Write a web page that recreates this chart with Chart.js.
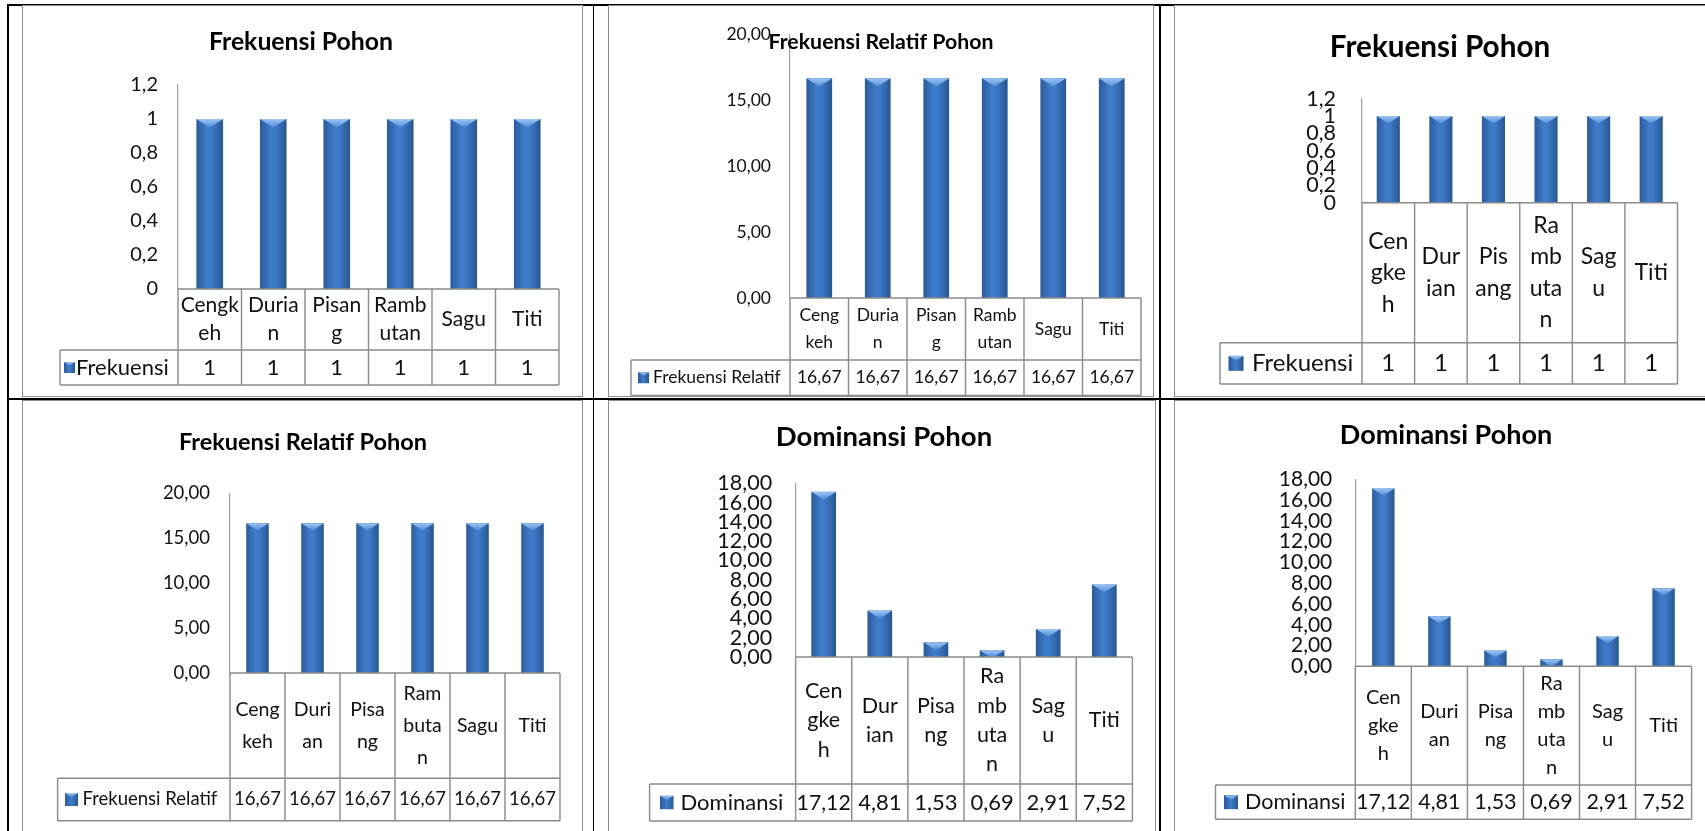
<!DOCTYPE html>
<html>
<head>
<meta charset="utf-8">
<title>Frekuensi dan Dominansi Pohon</title>
<script src="https://cdn.jsdelivr.net/npm/chart.js@4.4.1/dist/chart.umd.min.js"></script>
<style>
html, body { margin:0; padding:0; background:#fff; overflow:hidden; }
body { width:1705px; height:831px; position:relative; }
.line { position:absolute; background:#000; }
.box { position:absolute; border:1.4px solid #8d8d8d; box-sizing:border-box; }
canvas { position:absolute; }
</style>
</head>
<body>

<!-- garis tabel dokumen -->
<div class="line" style="left:7.3px;top:4.3px;width:1700px;height:1.3px"></div>
<div class="line" style="left:7.3px;top:4.3px;width:1.3px;height:830px"></div>
<div class="line" style="left:592.7px;top:4.3px;width:1.7px;height:830px"></div>
<div class="line" style="left:1159.3px;top:4.3px;width:1.7px;height:830px"></div>
<div class="line" style="left:7.3px;top:398px;width:1700px;height:1.7px"></div>

<div class="box" style="left:22px;top:5.4px;width:561.3px;height:391.4px"></div>
<div class="box" style="left:607.7px;top:5.4px;width:546.3px;height:391.4px"></div>
<div class="box" style="left:1173.7px;top:5.4px;width:600px;height:391.4px"></div>
<div class="box" style="left:22px;top:400px;width:561.3px;height:500px"></div>
<div class="box" style="left:607.7px;top:400px;width:548px;height:500px"></div>
<div class="box" style="left:1173.7px;top:400px;width:600px;height:500px"></div>

<canvas id="c1"></canvas>
<canvas id="c2"></canvas>
<canvas id="c3"></canvas>
<canvas id="c4"></canvas>
<canvas id="c5"></canvas>
<canvas id="c6"></canvas>

<script>
// Data
const categories = ['Cengkeh', 'Durian', 'Pisang', 'Rambutan', 'Sagu', 'Titi'];
const frekuensi = [1, 1, 1, 1, 1, 1];
const frekuensiRelatif = [16.67, 16.67, 16.67, 16.67, 16.67, 16.67];
const dominansi = [17.12, 4.81, 1.53, 0.69, 2.91, 7.52];

// Label sumbu Y
const frekTicks = ['0', '0,2', '0,4', '0,6', '0,8', '1', '1,2'];
const frekRelTicks = ['0,00', '5,00', '10,00', '15,00', '20,00'];
const domTicks = ['0,00', '2,00', '4,00', '6,00', '8,00', '10,00', '12,00', '14,00', '16,00', '18,00'];

// Label kategori, dipotong seperti di tiap grafik
const wrap1 = [['Cengk', 'eh'], ['Duria', 'n'], ['Pisan', 'g'], ['Ramb', 'utan'], ['Sagu'], ['Titi']];
const wrap2 = [['Ceng', 'keh'], ['Duria', 'n'], ['Pisan', 'g'], ['Ramb', 'utan'], ['Sagu'], ['Titi']];
const wrap3 = [['Cen', 'gke', 'h'], ['Dur', 'ian'], ['Pis', 'ang'], ['Ra', 'mb', 'uta', 'n'], ['Sag', 'u'], ['Titi']];
const wrap4 = [['Ceng', 'keh'], ['Duri', 'an'], ['Pisa', 'ng'], ['Ram', 'buta', 'n'], ['Sagu'], ['Titi']];
const wrap5 = [['Cen', 'gke', 'h'], ['Dur', 'ian'], ['Pisa', 'ng'], ['Ra', 'mb', 'uta', 'n'], ['Sag', 'u'], ['Titi']];
const wrap6 = [['Cen', 'gke', 'h'], ['Duri', 'an'], ['Pisa', 'ng'], ['Ra', 'mb', 'uta', 'n'], ['Sag', 'u'], ['Titi']];

const FONT = 'Lato, "Liberation Sans", sans-serif';

// posisi tiap panel (koordinat halaman)
const panels = [
    {id: 'c1', box: [22, 5, 583, 397], title: 'Frekuensi Pohon', titleX: 301, titleY: 42, titleSize: 24.8,
     axisX: 178, plotRight: 559, yTop: 85, yZero: 289, catBottom: 350, dataBottom: 385, dataLeft: 60,
     tickSize: 20, tickPad: 20, catSize: 21, catLine: 28, dataSize: 22, keyX: 64, keySize: 11, legendX: 76,
     barPct: 0.42, values: frekuensi, ticks: frekTicks, max: 1.2, step: 0.2, wrap: wrap1, series: 'Frekuensi', dec: 0},
    {id: 'c2', box: [608, 5, 1154, 397], title: 'Frekuensi Relatif Pohon', titleX: 881, titleY: 42, titleSize: 21.3,
     axisX: 790, plotRight: 1141, yTop: 28, yZero: 298, catBottom: 360, dataBottom: 395.5, dataLeft: 631,
     tickSize: 17.5, tickPad: 19, catSize: 17.5, catLine: 26.5, dataSize: 17.5, keyX: 638, keySize: 11, legendX: 653,
     barPct: 0.44, values: frekuensiRelatif, ticks: frekRelTicks, max: 20, step: 5, wrap: wrap2, series: 'Frekuensi Relatif', dec: 2},
    {id: 'c3', box: [1174, 5, 1705, 397], title: 'Frekuensi Pohon', titleX: 1440, titleY: 47, titleSize: 29.7,
     axisX: 1362, plotRight: 1677.5, yTop: 98.7, yZero: 202.7, catBottom: 342.7, dataBottom: 384, dataLeft: 1220,
     tickSize: 21.5, tickPad: 26, catSize: 23, catLine: 31.5, dataSize: 24, keyX: 1228.5, keySize: 15, legendX: 1252,
     barPct: 0.44, values: frekuensi, ticks: frekTicks, max: 1.2, step: 0.2, wrap: wrap3, series: 'Frekuensi', dec: 0},
    {id: 'c4', box: [22, 400, 583, 831], title: 'Frekuensi Relatif Pohon', titleX: 303, titleY: 442, titleSize: 23.5,
     axisX: 230, plotRight: 560, yTop: 493.3, yZero: 673, catBottom: 778.3, dataBottom: 820.7, dataLeft: 57.6,
     tickSize: 18.5, tickPad: 20, catSize: 19.5, catLine: 32.3, dataSize: 18.5, keyX: 65, keySize: 13, legendX: 82.5,
     barPct: 0.41, values: frekuensiRelatif, ticks: frekRelTicks, max: 20, step: 5, wrap: wrap4, series: 'Frekuensi Relatif', dec: 2},
    {id: 'c5', box: [608, 400, 1155, 831], title: 'Dominansi Pohon', titleX: 884, titleY: 437, titleSize: 27.5,
     axisX: 795.6, plotRight: 1132.4, yTop: 483.3, yZero: 657, catBottom: 784, dataBottom: 821, dataLeft: 649.6,
     tickSize: 21.5, tickPad: 23.5, catSize: 21.5, catLine: 29.3, dataSize: 22, keyX: 660, keySize: 13.5, legendX: 680.5,
     barPct: 0.44, values: dominansi, ticks: domTicks, max: 18, step: 2, wrap: wrap5, series: 'Dominansi', dec: 2},
    {id: 'c6', box: [1174, 400, 1705, 831], title: 'Dominansi Pohon', titleX: 1446, titleY: 435, titleSize: 27,
     axisX: 1355.3, plotRight: 1691.6, yTop: 479.3, yZero: 666.3, catBottom: 785, dataBottom: 819.3, dataLeft: 1215.5,
     tickSize: 21, tickPad: 23, catSize: 20, catLine: 28, dataSize: 21.5, keyX: 1224, keySize: 14, legendX: 1245,
     barPct: 0.40, values: dominansi, ticks: domTicks, max: 18, step: 2, wrap: wrap6, series: 'Dominansi', dec: 2}
];

const fmt = (v, d) => v.toFixed(d).replace('.', ',');

// gradasi batang (gelap di sisi, terang di tengah)
const barFill = (p) => (c) => {
    const ch = c.chart, a = ch.chartArea;
    if (!a || c.type !== 'data') return '#3b74bf';
    const cx = ch.scales.x.getPixelForValue(c.dataIndex);
    const hw = a.width / p.values.length * p.barPct / 2;
    const g = ch.ctx.createLinearGradient(cx - hw, 0, cx + hw, 0);
    g.addColorStop(0, '#2b5b9b');
    g.addColorStop(0.4, '#3f7ccb');
    g.addColorStop(0.6, '#3c78c6');
    g.addColorStop(1, '#28568f');
    return g;
};

const bevel = (ctx, x0, y0, w, h) => {
    const d = Math.min(w * 0.32, h);
    ctx.save();
    ctx.beginPath();
    ctx.rect(x0, y0, w, h);
    ctx.clip();
    const g = ctx.createLinearGradient(0, y0, 0, y0 + d);
    g.addColorStop(0, '#9cc6f5');
    g.addColorStop(1, '#4f8ad6');
    ctx.fillStyle = g;
    ctx.beginPath();
    ctx.moveTo(x0, y0);
    ctx.lineTo(x0 + w, y0);
    ctx.lineTo(x0 + w / 2, y0 + w * 0.32);
    ctx.closePath();
    ctx.fill();
    ctx.restore();
};

// sisi atas batang
const bevelPlugin = {
    id: 'bevel',
    afterDatasetsDraw(chart) {
        chart.getDatasetMeta(0).data.forEach(bar => {
            bevel(chart.ctx, bar.x - bar.width / 2, bar.y, bar.width, bar.base - bar.y);
        });
    }
};

// judul + tabel data di bawah sumbu X
const tablePlugin = (p, bx, by) => ({
    id: 'dataTable',
    afterDraw(chart) {
        const ctx = chart.ctx, a = chart.chartArea, xs = chart.scales.x;
        const n = p.values.length, cw = a.width / n;
        const y0 = a.bottom, y1 = p.catBottom - by, y2 = p.dataBottom - by, xl = p.dataLeft - bx;
        ctx.save();

        ctx.fillStyle = '#000';
        ctx.textAlign = 'center';
        ctx.textBaseline = 'middle';
        ctx.font = `bold ${p.titleSize}px ${FONT}`;
        ctx.fillText(p.title, p.titleX - bx, p.titleY - by);

        ctx.strokeStyle = '#8a8a8a';
        ctx.lineWidth = 1.4;
        ctx.beginPath();
        ctx.moveTo(a.left, y0); ctx.lineTo(a.right, y0);
        ctx.moveTo(xl, y1); ctx.lineTo(a.right, y1);
        ctx.moveTo(xl, y2); ctx.lineTo(a.right, y2);
        ctx.moveTo(xl, y1); ctx.lineTo(xl, y2);
        for (let i = 0; i <= n; i++) {
            const x = xs.getPixelForValue(Math.min(i, n - 1)) + (i === n ? cw / 2 : -cw / 2);
            ctx.moveTo(x, y0); ctx.lineTo(x, y2);
        }
        ctx.stroke();

        ctx.fillStyle = '#111';
        ctx.font = `${p.catSize}px ${FONT}`;
        p.wrap.forEach((lines, i) => {
            const cx = xs.getPixelForValue(i);
            const top = (y0 + y1) / 2 - (lines.length - 1) * p.catLine / 2;
            lines.forEach((t, j) => ctx.fillText(t, cx, top + j * p.catLine, cw - 3));
        });

        ctx.font = `${p.dataSize}px ${FONT}`;
        const ym = (y1 + y2) / 2;
        p.values.forEach((v, i) => ctx.fillText(fmt(v, p.dec), xs.getPixelForValue(i), ym, cw - 2));

        const kx = p.keyX - bx, ks = p.keySize;
        const kg = ctx.createLinearGradient(kx, 0, kx + ks, 0);
        kg.addColorStop(0, '#2b5b9b');
        kg.addColorStop(0.5, '#3f7ccb');
        kg.addColorStop(1, '#28568f');
        ctx.fillStyle = kg;
        ctx.fillRect(kx, ym - ks / 2, ks, ks);
        bevel(ctx, kx, ym - ks / 2, ks, ks);

        ctx.fillStyle = '#111';
        ctx.textAlign = 'left';
        ctx.fillText(p.series, p.legendX - bx, ym, a.left - (p.legendX - bx) - 3);
        ctx.restore();
    }
});

const makeChart = (p) => {
    const cv = document.getElementById(p.id);
    const bx = p.box[0], by = p.box[1];
    const W = p.box[2] - bx, H = p.box[3] - by;
    cv.width = W;
    cv.height = H;
    cv.style.left = bx + 'px';
    cv.style.top = by + 'px';

    new Chart(cv, {
        type: 'bar',
        data: {
            labels: categories,
            datasets: [{
                data: p.values,
                backgroundColor: barFill(p),
                borderWidth: 0,
                barPercentage: p.barPct,
                categoryPercentage: 1
            }]
        },
        options: {
            responsive: false,
            animation: false,
            layout: {
                padding: {left: 0, top: p.yTop - by, right: W - (p.plotRight - bx), bottom: H - (p.yZero - by)}
            },
            scales: {
                x: {display: false, offset: true},
                y: {
                    min: 0,
                    max: p.max,
                    ticks: {
                        stepSize: p.step,
                        autoSkip: false,
                        padding: p.tickPad,
                        color: '#111',
                        font: {family: FONT, size: p.tickSize},
                        callback: (v) => p.ticks[Math.round(v / p.step)]
                    },
                    grid: {display: false, drawTicks: false, tickLength: 0},
                    border: {display: true, color: '#a0a0a0', width: 1.2},
                    afterFit: (s) => { s.width = p.axisX - bx; }
                }
            },
            plugins: {
                legend: {display: false},
                tooltip: {enabled: false},
                title: {display: false}
            }
        },
        plugins: [bevelPlugin, tablePlugin(p, bx, by)]
    });
};

panels.forEach(makeChart);
</script>
</body>
</html>
